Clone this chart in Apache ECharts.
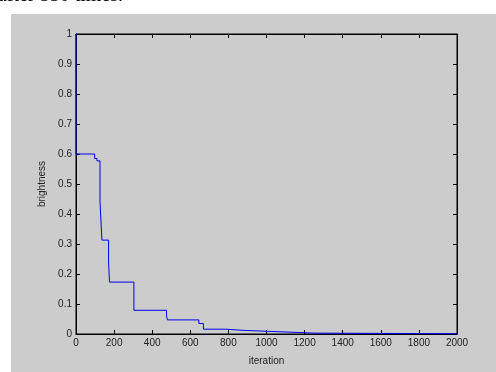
<!DOCTYPE html>
<html>
<head>
<meta charset="utf-8">
<script src="https://cdn.jsdelivr.net/npm/echarts@6/dist/echarts.min.js"></script>
<style>
html,body{margin:0;padding:0;background:#fff;}
#c{width:496px;height:372px;}
</style>
</head>
<body>
<div id="c"></div>
<script>
// Step data: iteration -> brightness
var iterations = [0, 0, 98, 110, 126, 136, 171, 176, 304, 475, 480, 645, 669, 784, 882, 1005, 1250, 2000];
var brightness = [1, 0.6, 0.585, 0.577, 0.44, 0.313, 0.24, 0.173, 0.079, 0.06, 0.047, 0.035, 0.016, 0.012, 0.009, 0.003, 0.0008, 0.0008];
var xTicks = [0, 200, 400, 600, 800, 1000, 1200, 1400, 1600, 1800, 2000];
var yTicks = [0, 0.1, 0.2, 0.3, 0.4, 0.5, 0.6, 0.7, 0.8, 0.9, 1];
var xName = 'iteration';
var yName = 'brightness';
var caption = 'after 550 times.';

var points = iterations.map(function (x, i) { return [x, brightness[i]]; });
var chart = echarts.init(document.getElementById('c'), null, {renderer: 'canvas'});
var labelFont = {fontFamily: 'Liberation Sans, Arial, sans-serif', fontSize: 10, color: '#222'};
var tickStyle = {show: true, inside: true, length: 4, lineStyle: {color: '#000', width: 1}};
chart.setOption({
  backgroundColor: '#ffffff',
  animation: false,
  graphic: [
    {type: 'rect', z: -10, shape: {x: 11, y: 14, width: 485, height: 358}, style: {fill: '#cccccc'}, silent: true},
    {type: 'text', x: -2, y: 6, style: {text: caption, font: '20px "Liberation Serif", "Times New Roman", serif', fill: '#000', verticalAlign: 'bottom'}}
  ],
  grid: {left: 76, top: 34, width: 381, height: 300, show: true, borderColor: '#000', borderWidth: 1, backgroundColor: 'transparent'},
  xAxis: [
    {type: 'value', min: 0, max: 2000, interval: 200, position: 'bottom',
     name: xName, nameLocation: 'middle', nameGap: 22,
     nameTextStyle: {fontFamily: 'Liberation Sans, Arial, sans-serif', fontSize: 10, color: '#222'},
     axisLine: {show: true, onZero: false, lineStyle: {color: '#000', width: 1}},
     axisTick: tickStyle,
     axisLabel: Object.assign({margin: 4, formatter: function (v) { return xTicks.indexOf(v) >= 0 ? String(v) : ''; }}, labelFont),
     splitLine: {show: false}},
    {type: 'value', min: 0, max: 2000, interval: 200, position: 'top',
     axisLine: {show: true, onZero: false, lineStyle: {color: '#000', width: 1}},
     axisTick: tickStyle, axisLabel: {show: false}, splitLine: {show: false}}
  ],
  yAxis: [
    {type: 'value', min: 0, max: 1, interval: 0.1, position: 'left',
     name: yName, nameLocation: 'middle', nameGap: 25, nameRotate: 90,
     nameTextStyle: {fontFamily: 'Liberation Sans, Arial, sans-serif', fontSize: 10, color: '#222'},
     axisLine: {show: true, onZero: false, lineStyle: {color: '#000', width: 1}},
     axisTick: tickStyle,
     axisLabel: Object.assign({margin: 4, formatter: function (v) {
       var r = Math.round(v * 10) / 10;
       return yTicks.indexOf(r) >= 0 ? String(r) : '';
     }}, labelFont),
     splitLine: {show: false}},
    {type: 'value', min: 0, max: 1, interval: 0.1, position: 'right',
     axisLine: {show: true, onZero: false, lineStyle: {color: '#000', width: 1}},
     axisTick: tickStyle, axisLabel: {show: false}, splitLine: {show: false}}
  ],
  series: [{
    type: 'line', step: 'end', data: points, showSymbol: false, symbol: 'none',
    xAxisIndex: 0, yAxisIndex: 0, clip: false,
    lineStyle: {color: '#0000ee', width: 1}
  }]
});
</script>
</body>
</html>
